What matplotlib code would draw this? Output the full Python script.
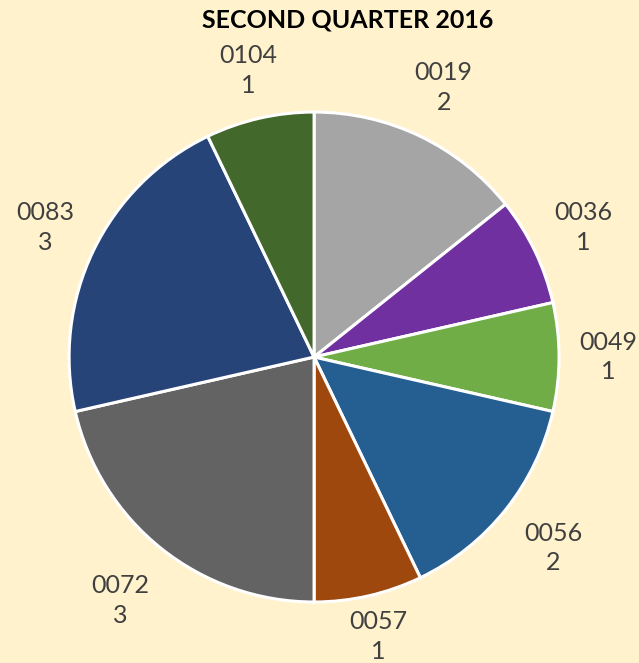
import matplotlib.pyplot as plt
import numpy as np

codes = ["0019", "0036", "0049", "0056", "0057", "0072", "0083", "0104"]
counts = [2, 1, 1, 2, 1, 3, 3, 1]
colors = ["#A5A5A5", "#7030A0", "#70AD47", "#255E91",
          "#9E480E", "#636363", "#264478", "#43682B"]
label_dist = [1.22, 1.22, 1.20, 1.25, 1.17, 1.27, 1.22, 1.20]

bg = "#FFF2CC"
fig = plt.figure(figsize=(6.39, 6.63), dpi=100, facecolor=bg)
ax = fig.add_axes([0.108, 0.092, 0.767, 0.739])
ax.set_facecolor(bg)

wedges, _ = ax.pie(counts, colors=colors, startangle=90, counterclock=False,
                   wedgeprops=dict(edgecolor="white", linewidth=2.2))

for w, code, n, d in zip(wedges, codes, counts, label_dist):
    ang = np.deg2rad((w.theta1 + w.theta2) / 2)
    ax.text(d * np.cos(ang), d * np.sin(ang), "%s\n%d" % (code, n),
            ha="center", va="center", fontsize=18, color="#404040",
            family="Lato", linespacing=1.35)

ax.set_xlim(-1, 1)
ax.set_ylim(-1, 1)
ax.set_aspect("equal")

fig.text(348 / 639, 1 - 20 / 663, "SECOND QUARTER 2016", ha="center", va="center",
         fontsize=18, fontweight="bold", family="Lato", color="black")

fig.savefig("out.png", dpi=100, facecolor=bg)
